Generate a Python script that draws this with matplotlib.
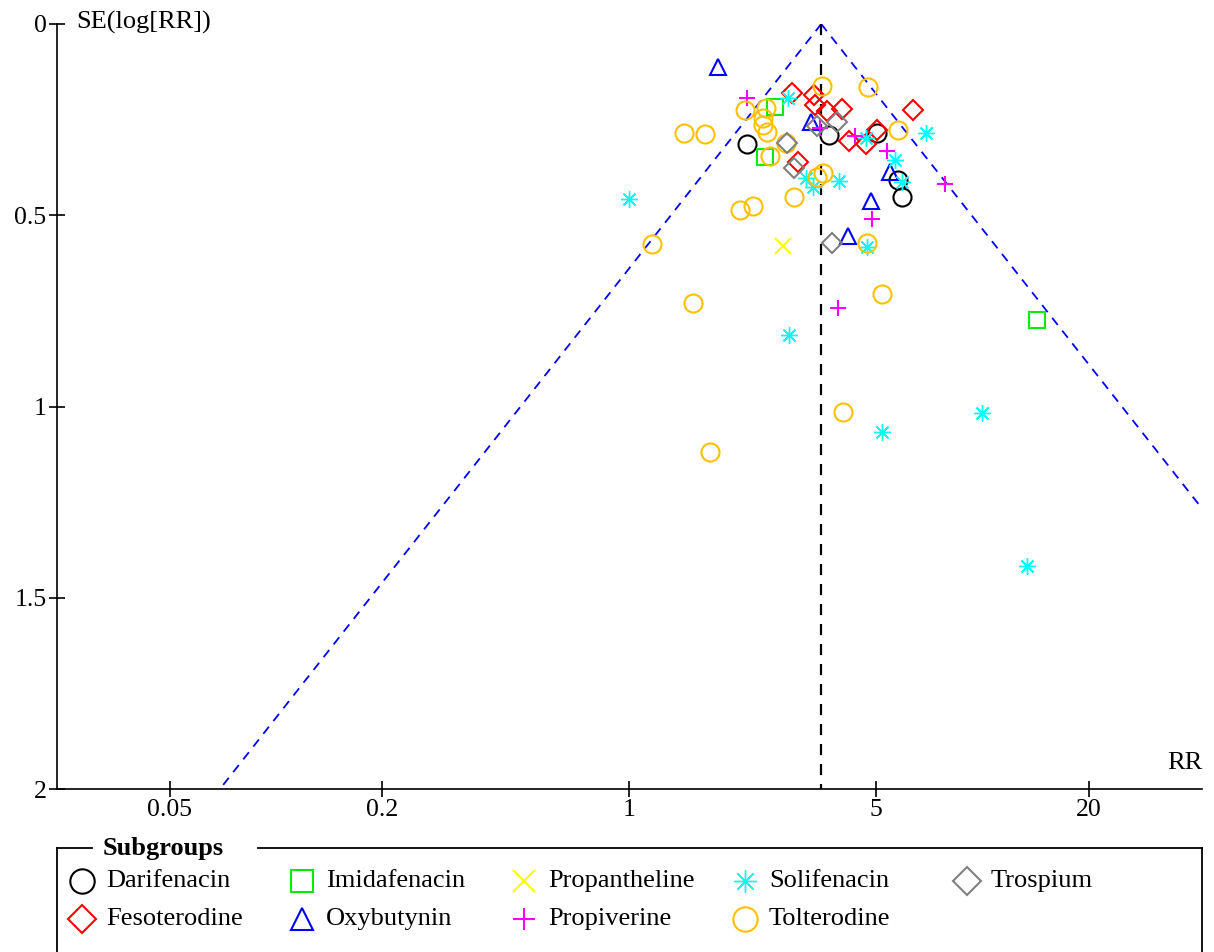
import numpy as np
import matplotlib
matplotlib.use('Agg')
import matplotlib.pyplot as plt
from matplotlib.lines import Line2D

plt.rcParams['font.family'] = ['Liberation Serif', 'DejaVu Serif']

# Funnel plot of RR vs SE(log[RR]) by subgroup
pooled_rr = 3.5

darifenacin_rr = [2.16, 3.69, 5.04, 5.78, 5.93]
darifenacin_se = [0.314, 0.290, 0.286, 0.409, 0.452]

fesoterodine_rr = [2.89, 3.34, 3.36, 3.64, 4.00, 4.20, 4.68, 5.04, 6.37, 3.01]
fesoterodine_se = [0.180, 0.186, 0.213, 0.227, 0.222, 0.306, 0.314, 0.277, 0.225, 0.361]

imidafenacin_rr = [2.59, 2.43, 14.3]
imidafenacin_se = [0.217, 0.348, 0.774]

oxybutynin_rr = [1.78, 3.27, 4.17, 4.85, 5.48]
oxybutynin_se = [0.112, 0.256, 0.554, 0.463, 0.387]

propantheline_rr = [2.73]
propantheline_se = [0.580]

propiverine_rr = [2.16, 3.47, 4.36, 5.36, 4.88, 3.91, 7.84]
propiverine_se = [0.193, 0.272, 0.293, 0.332, 0.510, 0.742, 0.418]

solifenacin_rr = [1.00, 2.82, 3.17, 3.32, 3.93, 4.69, 5.66, 5.93, 6.93, 4.72, 2.84, 9.99, 5.20, 13.4]
solifenacin_se = [0.458, 0.193, 0.403, 0.426, 0.410, 0.298, 0.356, 0.413, 0.285, 0.583,
                  0.813, 1.017, 1.067, 1.417]

tolterodine_rr = [1.43, 1.64, 2.13, 2.44, 2.40, 2.40, 2.46, 2.78, 2.51, 3.52, 4.75, 5.78,
                  3.41, 3.54, 2.93, 2.06, 2.24, 1.16, 1.52, 4.72, 5.20, 4.04, 1.69]
tolterodine_se = [0.285, 0.288, 0.225, 0.220, 0.246, 0.264, 0.282, 0.311, 0.345, 0.162, 0.165, 0.277,
                  0.400, 0.390, 0.452, 0.486, 0.476, 0.575, 0.729, 0.573, 0.706, 1.014, 1.119]

trospium_rr = [2.80, 2.93, 3.41, 3.88, 3.76]
trospium_se = [0.311, 0.376, 0.267, 0.256, 0.573]

x_ticks = [0.05, 0.2, 1, 5, 20]
x_tick_labels = ['0.05', '0.2', '1', '5', '20']
y_ticks = [0, 0.5, 1, 1.5, 2]
y_tick_labels = ['0', '0.5', '1', '1.5', '2']

# name, rr, se, marker, colour, size, edge width
groups = [
    ('Darifenacin', darifenacin_rr, darifenacin_se, 'o', 'black', 13, 1.5),
    ('Fesoterodine', fesoterodine_rr, fesoterodine_se, 'D', '#ff0000', 10.5, 1.5),
    ('Imidafenacin', imidafenacin_rr, imidafenacin_se, 's', '#00ee00', 12, 1.5),
    ('Oxybutynin', oxybutynin_rr, oxybutynin_se, '^', '#0000ff', 12, 1.5),
    ('Propantheline', propantheline_rr, propantheline_se, 'x', '#ffff00', 12, 1.5),
    ('Propiverine', propiverine_rr, propiverine_se, '+', '#ff00ff', 12, 1.5),
    ('Solifenacin', solifenacin_rr, solifenacin_se, (8, 2, 0), '#00ffff', 12, 1.0),
    ('Tolterodine', tolterodine_rr, tolterodine_se, 'o', '#ffc000', 13, 1.5),
    ('Trospium', trospium_rr, trospium_se, 'D', '#808080', 10.5, 1.5),
]

W, H = 1214, 952
fig = plt.figure(figsize=(W / 100, H / 100), dpi=100)
ax = fig.add_axes([57 / W, 1 - 789 / H, (1202 - 57) / W, (789 - 24) / H])

# funnel lines (95% limits)
se_line = np.array([0, 2])
ax.plot(pooled_rr * np.exp(-1.96 * se_line), se_line, color='#0000ff', lw=1.3,
        dashes=(5, 4), zorder=1)
ax.plot(pooled_rr * np.exp(1.96 * se_line), se_line, color='#0000ff', lw=1.3,
        dashes=(5, 4), zorder=1)
ax.plot([pooled_rr, pooled_rr], [0, 2], color='black', lw=1.6, dashes=(5, 4), zorder=1)

for name, rr, se, mk, col, ms, mew in groups:
    ax.plot(rr, se, linestyle='none', marker=mk, markersize=ms, markerfacecolor='none',
            markeredgecolor=col, markeredgewidth=mew, zorder=3)

ax.set_xscale('log')
ax.set_xlim(0.024, 41.9)
ax.set_ylim(2, 0)
ax.set_xticks(x_ticks)
ax.set_xticklabels(x_tick_labels)
ax.set_yticks(y_ticks)
ax.set_yticklabels(y_tick_labels)
ax.minorticks_off()
ax.tick_params(direction='inout', length=11, width=1.2, labelsize=18.5, pad=2)
for s in ['top', 'right']:
    ax.spines[s].set_visible(False)
for s in ['left', 'bottom']:
    ax.spines[s].set_linewidth(1.2)

def fx(x):
    return x / W

def fy(y):
    return 1 - y / H

fig.text(fx(76), fy(22), 'SE(log[RR])', fontsize=19, ha='left', va='center')
fig.text(fx(1202), fy(763), 'RR', fontsize=19, ha='right', va='center')

# legend box with title in the border
frame_kw = dict(color='black', lw=1.3, transform=fig.transFigure)
fig.add_artist(Line2D([fx(57), fx(57)], [fy(848), 0], **frame_kw))
fig.add_artist(Line2D([fx(1202), fx(1202)], [fy(848), 0], **frame_kw))
fig.add_artist(Line2D([fx(57), fx(92)], [fy(848), fy(848)], **frame_kw))
fig.add_artist(Line2D([fx(258), fx(1202)], [fy(848), fy(848)], **frame_kw))
fig.text(fx(103), fy(848), 'Subgroups', fontsize=19, fontweight='bold', ha='left', va='center')

col_x = [82, 302, 524, 745, 967]
row_y = [881, 919]
for i, (name, rr, se, mk, col, ms, mew) in enumerate(groups):
    cx = col_x[i // 2]
    cy = row_y[i % 2]
    fig.add_artist(Line2D([fx(cx)], [fy(cy)], linestyle='none', marker=mk, markersize=ms * 1.35,
                          markerfacecolor='none', markeredgecolor=col, markeredgewidth=mew,
                          transform=fig.transFigure))
    fig.text(fx(cx + 24), fy(cy), name, fontsize=19, ha='left', va='center')

fig.savefig('out.png', dpi=100)
